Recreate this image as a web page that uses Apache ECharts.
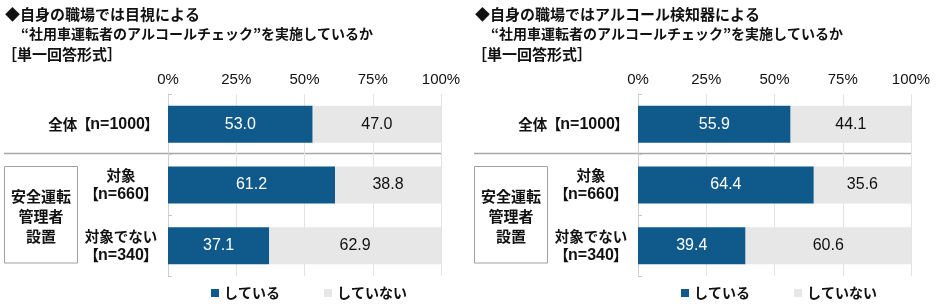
<!DOCTYPE html>
<html><head><meta charset="utf-8">
<script src="https://cdn.jsdelivr.net/npm/echarts@6/dist/echarts.min.js"></script>
<style>html,body{margin:0;padding:0;background:#fff}#c{width:940px;height:306px}</style>
</head><body><div id="c"></div>
<script>
const groups = ['全体', '対象', '対象でない'];
const sampleSizes = [1000, 660, 340];
const seriesNames = ['している', 'していない'];
const leftYes = [53.0, 61.2, 37.1];
const leftNo = [47.0, 38.8, 62.9];
const rightYes = [55.9, 64.4, 39.4];
const rightNo = [44.1, 35.6, 60.6];
const tickValues = [0, 25, 50, 75, 100];
const leftTitle = ['◆自身の職場では目視による', '“社用車運転者のアルコールチェック”を実施しているか', '［単一回答形式］'];
const rightTitle = ['◆自身の職場ではアルコール検知器による', '“社用車運転者のアルコールチェック”を実施しているか', '［単一回答形式］'];
const boxLabel = '安全運転\n管理者\n設置';

const FONT = '"Liberation Sans", "Noto Sans CJK JP", sans-serif';
const JFONT = '"Noto Sans CJK JP", sans-serif';
const TFONT = '"Noto Sans CJK TC", "Noto Sans CJK JP", sans-serif';
const BLUE = '#0F5A8B';
const GRAY = '#E7E7E7';
const cats = groups.map((g, i) => g + '|' + sampleSizes[i]);

function yLabel(v, i) {
  const g = groups[i], n = sampleSizes[i];
  const nPart = '{b|【}{n|n=' + n + '}{b|】}';
  if (i === 0) return '{j|' + g + '}' + nPart;
  return '{c|' + g + '}\n' + nPart;
}

const panels = [
  {left: 168, yes: leftYes, no: leftNo, title: leftTitle, off: 0},
  {left: 638, yes: rightYes, no: rightNo, title: rightTitle, off: 470}
];

const grid = [], xAxis = [], yAxis = [], series = [], legend = [], graphic = [];
panels.forEach((p, k) => {
  grid.push({left: p.left, width: 273, top: 94, height: 182, containLabel: false});
  xAxis.push({
    type: 'value', gridIndex: k, position: 'top', min: 0, max: 100, interval: 25,
    axisLine: {show: false}, axisTick: {show: false},
    splitLine: {show: true, lineStyle: {color: '#E3E3E3', width: 1}},
    axisLabel: {formatter: '{value}%', fontFamily: FONT, fontSize: 15, color: '#111', margin: 7}
  });
  yAxis.push({
    type: 'category', gridIndex: k, data: cats, inverse: true,
    axisLine: {show: true, lineStyle: {color: '#D0D0D0'}},
    axisTick: {show: true, inside: true, length: 4, lineStyle: {color: '#C8C8C8'}},
    axisLabel: {
      margin: 10, formatter: yLabel, color: '#111', lineHeight: 19,
      rich: {
        j: {fontFamily: JFONT, fontSize: 14.5, fontWeight: 'bold', color: '#111', lineHeight: 19},
        b: {fontFamily: TFONT, fontSize: 15, fontWeight: 'bold', color: '#111', lineHeight: 19, width: 13, align: 'center'},
        n: {fontFamily: FONT, fontSize: 16, fontWeight: 'bold', color: '#111', lineHeight: 19},
        c: {fontFamily: JFONT, fontSize: 14.5, fontWeight: 'bold', color: '#111', width: 74, align: 'center', lineHeight: 19}
      }
    }
  });
  series.push({
    name: seriesNames[0], type: 'bar', stack: 's' + k, xAxisIndex: k, yAxisIndex: k,
    data: p.yes, barWidth: 37, itemStyle: {color: BLUE},
    label: {show: true, position: 'inside', color: '#fff', fontFamily: FONT, fontSize: 16, formatter: d => d.value.toFixed(1)}
  });
  series.push({
    name: seriesNames[1], type: 'bar', stack: 's' + k, xAxisIndex: k, yAxisIndex: k,
    data: p.no, barWidth: 37, itemStyle: {color: GRAY},
    label: {show: true, position: 'inside', color: '#111', fontFamily: FONT, fontSize: 16, formatter: d => d.value.toFixed(1)}
  });
  legend.push({
    left: 211 + p.off, top: 286, itemWidth: 8, itemHeight: 8, itemGap: 44, padding: 0,
    icon: 'rect', data: seriesNames, selectedMode: false,
    textStyle: {fontFamily: JFONT, fontSize: 14, fontWeight: 'bold', color: '#111'}
  });
  graphic.push({type: 'text', left: 5 + p.off, top: 7, style: {text: p.title[0], font: 'bold 15px ' + JFONT, fill: '#111'}});
  graphic.push({type: 'text', left: 21 + p.off, top: 27, style: {text: p.title[1], font: 'bold 14px ' + JFONT, fill: '#111'}});
  graphic.push({type: 'text', left: 2 + p.off, top: 47, style: {text: p.title[2], font: 'bold 15px ' + JFONT, fill: '#111'}});
  graphic.push({type: 'line', shape: {x1: 4 + p.off, y1: 153.5, x2: 441 + p.off, y2: 153.5}, style: {stroke: '#A8A8A8', lineWidth: 1.5}});
  graphic.push({type: 'rect', shape: {x: 4.5 + p.off, y: 166.5, width: 73, height: 96.5}, style: {fill: 'none', stroke: '#A0A0A0', lineWidth: 1}});
  graphic.push({type: 'text', x: 41 + p.off, y: 216.5, style: {text: boxLabel, font: 'bold 15px ' + JFONT, fill: '#111', align: 'center', verticalAlign: 'middle', lineHeight: 20}});
});

const chart = echarts.init(document.getElementById('c'), null, {renderer: 'canvas'});
chart.setOption({animation: false, grid, xAxis, yAxis, series, legend, graphic});
</script></body></html>
